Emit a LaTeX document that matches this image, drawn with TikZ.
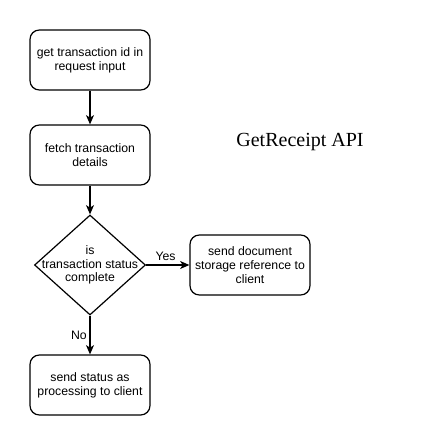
\documentclass[tikz,border=0pt]{standalone}
\usepackage{fontspec}
\setmainfont{Liberation Sans}
\newfontfamily\titlefont{Liberation Serif}
\usetikzlibrary{positioning, shapes.geometric, arrows.meta}

\tikzset{
  stepbox/.style={draw, rounded corners=7pt, line width=0.9pt, minimum width=90pt,
    minimum height=45pt, align=center, font=\fontsize{9.2}{10.3}\selectfont, inner sep=2pt},
  choice/.style={draw, diamond, line width=0.9pt, minimum width=83.25pt,
    minimum height=75pt, align=center, font=\fontsize{9.2}{10.3}\selectfont,
    inner xsep=-30pt, inner ysep=-14pt},
  flow/.style={-{Stealth[length=7pt, width=6pt, inset=2pt]}, line width=0.9pt},
  lab/.style={font=\fontsize{9.2}{10.3}\selectfont, inner sep=2pt}
}

\begin{document}
\begin{tikzpicture}[x=0.75pt, y=-0.75pt]
  \useasboundingbox (0,0) rectangle (421,446);
  \node[stepbox] (getid) at (90,60) {get transaction id in\\request input};
  \node[stepbox] (fetch) at (90,155) {fetch transaction\\details};
  \node[choice] (status) at (90,265) {is\\transaction status\\complete};
  \node[stepbox] (sendref) at (250,265) {send document\\storage reference to\\client};
  \node[stepbox] (sendproc) at (90,385) {send status as\\processing to client};
  \node[font=\titlefont\fontsize{15}{18}\selectfont] (title) at (300,142) {GetReceipt API};
  \draw[flow] (getid) -- (fetch);
  \draw[flow] (fetch) -- (status);
  \draw[flow] (status) -- node[lab, pos=0.45, above=1pt] {Yes} (sendref);
  \draw[flow] (status) -- node[lab, pos=0.5, left] {No} (sendproc);
\end{tikzpicture}
\end{document}
